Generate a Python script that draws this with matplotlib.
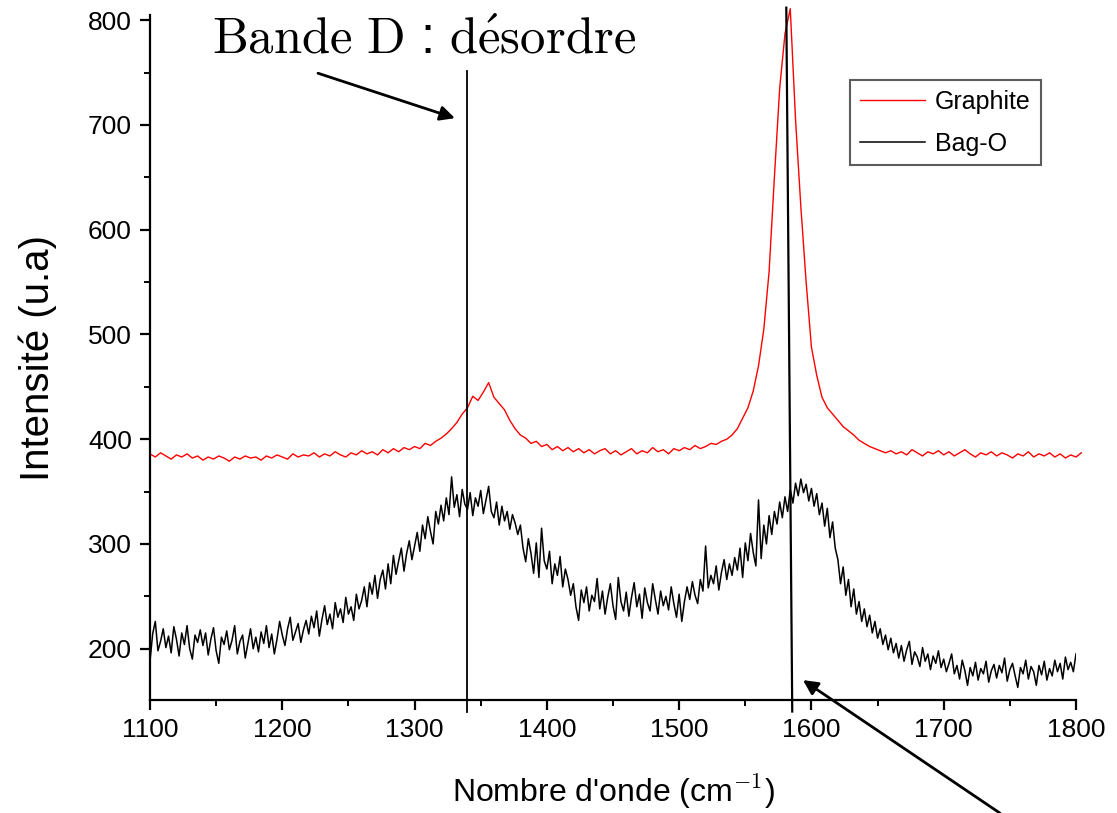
import numpy as np
import matplotlib
matplotlib.use("Agg")
import matplotlib.pyplot as plt
from matplotlib.ticker import MultipleLocator

plt.rcParams['font.family'] = ['Liberation Sans', 'DejaVu Sans']
plt.rcParams['mathtext.fontset'] = 'cm'

### DATA
# Graphite, step 4 cm-1
wn_graphite = np.arange(1100, 1805, 4)
graphite = [
    386, 383, 387, 384, 381, 385, 383, 386, 382, 384,
    380, 383, 381, 384, 382, 379, 383, 381, 384, 382,
    383, 380, 384, 382, 385, 383, 381, 386, 383, 385,
    384, 387, 383, 386, 384, 388, 385, 383, 387, 385,
    389, 386, 388, 385, 390, 387, 391, 388, 392, 390,
    393, 391, 396, 394, 398, 401, 405, 410, 416, 424,
    430, 441, 437, 445, 454, 440, 434, 428, 418, 410,
    404, 401, 396, 398, 393, 395, 390, 393, 389, 392,
    388, 391, 387, 390, 386, 389, 391, 386, 389, 385,
    388, 391, 386, 389, 387, 392, 388, 390, 386, 391,
    389, 392, 390, 394, 391, 393, 396, 395, 398, 400,
    404, 410, 420, 430, 446, 470, 505, 560, 650, 735,
    787, 811, 705, 622, 550, 488, 461, 440, 430, 424,
    418, 412, 408, 404, 399, 396, 393, 391, 389, 387,
    389, 386, 388, 385, 390, 387, 384, 388, 386, 389,
    385, 388, 384, 387, 390, 386, 383, 387, 385, 388,
    384, 387, 385, 382, 386, 384, 388, 383, 386, 384,
    387, 383, 386, 382, 385, 383, 387,
]

# Bag-O, step 2 cm-1
wn_bag = np.arange(1100, 1801, 2)
bag_o = [
    188, 214, 226, 198, 207, 219, 201, 212, 196, 221, 209, 193, 215, 204, 222, 200, 190, 213, 206, 218,
    203, 215, 194, 209, 220, 198, 186, 211, 204, 217, 199, 208, 222, 195, 207, 213, 191, 205, 219, 200,
    211, 197, 216, 205, 222, 201, 214, 195, 209, 226, 213, 203, 219, 230, 208, 216, 224, 206, 218, 227,
    214, 231, 220, 236, 212, 228, 241, 223, 233, 219, 244, 230, 238, 225, 249, 233, 240, 227, 252, 238,
    246, 259, 240, 263, 252, 270, 248, 266, 275, 257, 281, 262, 289, 271, 284, 296, 274, 291, 303, 285,
    298, 311, 293, 318, 305, 326, 312, 300, 331, 319, 337, 322, 344, 328, 364, 335, 347, 326, 352, 338,
    333, 349, 327, 344, 336, 351, 329, 342, 355, 331, 325, 340, 318, 336, 322, 331, 314, 328, 320, 309,
    318, 296, 283, 305, 291, 272, 301, 268, 315, 284, 276, 293, 262, 281, 270, 288, 259, 276, 266, 251,
    262, 240, 227, 256, 244, 259, 236, 251, 245, 267, 238, 255, 233, 249, 262, 241, 228, 268, 245, 236,
    254, 231, 249, 263, 240, 252, 229, 258, 244, 236, 262, 247, 233, 255, 241, 250, 237, 259, 243, 230,
    252, 226, 245, 259, 247, 264, 251, 243, 266, 255, 298, 258, 270, 262, 279, 256, 273, 285, 266, 281,
    270, 287, 275, 296, 268, 301, 284, 310, 292, 279, 342, 286, 318, 300, 327, 309, 331, 319, 340, 325,
    345, 331, 352, 339, 358, 346, 362, 349, 357, 341, 353, 336, 348, 328, 339, 317, 334, 306, 321, 296,
    285, 262, 278, 251, 266, 240, 257, 233, 245, 226, 238, 221, 232, 215, 226, 210, 219, 204, 213, 199,
    210, 196, 205, 191, 203, 188, 199, 207, 185, 197, 192, 183, 201, 188, 195, 180, 193, 186, 198, 182,
    190, 178, 186, 195, 176, 184, 171, 189, 179, 165, 182, 174, 187, 170, 181, 176, 188, 168, 179, 185,
    172, 184, 177, 191, 169, 180, 186, 174, 163, 182, 176, 189, 171, 183, 178, 165, 184, 175, 188, 170,
    181, 174, 189, 178, 186, 171, 192, 180, 187, 178, 195,
]

d_band = 1340
g_band_top = 1581
g_band_bottom = 1585.5

fig = plt.figure(figsize=(11.17, 8.13), dpi=100)
ax = fig.add_axes([150 / 1117, 113 / 813, 926 / 1117, 685 / 813])

ax.plot(wn_graphite, graphite, color='red', lw=1.0, label='Graphite', clip_on=False)
ax.plot(wn_bag, bag_o, color='black', lw=1.1, label='Bag-O')

# band markers
ax.plot([d_band, d_band], [752, 140], color='black', lw=1.3, clip_on=False)
ax.plot([g_band_top, g_band_bottom], [812, 140], color='black', lw=1.6, clip_on=False)

arrow = dict(arrowstyle='-|>', mutation_scale=22, lw=2, color='black', shrinkA=0, shrinkB=0)
ax.annotate('', xy=(1330.5, 706.5), xytext=(1227, 749.4), arrowprops=arrow, annotation_clip=False)
ax.annotate('', xy=(1593.6, 170), xytext=(1742.5, 43), arrowprops=arrow, annotation_clip=False)

fig.text(424 / 1117, 1 - 40 / 813,
         r'$\mathrm{Bande\ D\ }$:$\mathrm{\ d\acute{e}sordre}$',
         fontsize=36.5, ha='center', va='center')

ax.set_xlim(1100, 1800)
ax.set_ylim(151, 805)
ax.xaxis.set_major_locator(MultipleLocator(100))
ax.xaxis.set_minor_locator(MultipleLocator(50))
ax.yaxis.set_minor_locator(MultipleLocator(50))
ax.set_yticks([200, 300, 400, 500, 600, 700, 800])

for s in ['top', 'right']:
    ax.spines[s].set_visible(False)
for s in ['left', 'bottom']:
    ax.spines[s].set_linewidth(1.6)
ax.tick_params(which='major', direction='out', length=7, width=1.6, pad=6, labelsize=19)
ax.tick_params(which='minor', direction='out', length=4.5, width=1.4)

ax.set_xlabel("Nombre d'onde (cm$^{-1}$)", fontsize=23, labelpad=22)
ax.set_ylabel("Intensité (u.a)", fontsize=29, labelpad=22)

leg = ax.legend(loc='upper left', bbox_to_anchor=(850 / 1117, 1 - 80 / 813),
                bbox_transform=fig.transFigure, fontsize=18, frameon=True, fancybox=False,
                handlelength=2.6, handletextpad=0.4, labelspacing=0.7, borderpad=0.4,
                borderaxespad=0)
leg.get_frame().set_edgecolor('#333333')
leg.get_frame().set_linewidth(1.5)

plt.savefig('out.png', dpi=100)
